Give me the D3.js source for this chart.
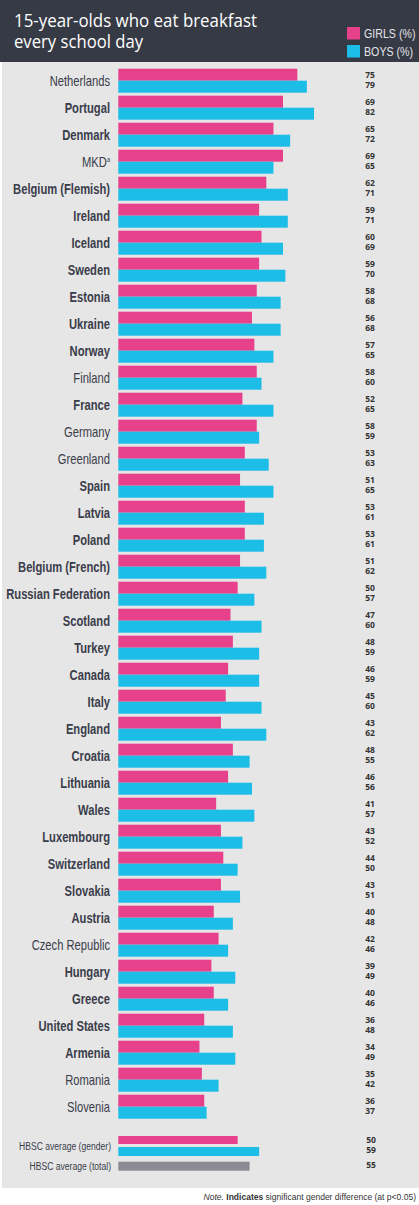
<!DOCTYPE html>
<html><head><meta charset="utf-8">
<script src="https://cdn.jsdelivr.net/npm/d3@7"></script>
<style>
html,body{margin:0;padding:0;background:#fff;}
svg{display:block;}
</style></head>
<body>
<script>
const countries = ["Netherlands","Portugal","Denmark","MKD","Belgium (Flemish)","Ireland","Iceland","Sweden","Estonia","Ukraine","Norway","Finland","France","Germany","Greenland","Spain","Latvia","Poland","Belgium (French)","Russian Federation","Scotland","Turkey","Canada","Italy","England","Croatia","Lithuania","Wales","Luxembourg","Switzerland","Slovakia","Austria","Czech Republic","Hungary","Greece","United States","Armenia","Romania","Slovenia"];
const girls = [75,69,65,69,62,59,60,59,58,56,57,58,52,58,53,51,53,53,51,50,47,48,46,45,43,48,46,41,43,44,43,40,42,39,40,36,34,35,36];
const boys  = [79,82,72,65,71,71,69,70,68,68,65,60,65,59,63,65,61,61,62,57,60,59,59,60,62,55,56,57,52,50,51,48,46,49,46,48,49,42,37];
const significant = [false,true,true,false,true,true,true,true,true,true,true,false,true,false,false,true,true,true,true,true,true,true,true,true,true,true,true,true,true,true,true,true,false,true,true,true,true,false,false];
const avgGirls = 50, avgBoys = 59, avgTotal = 55;

const W = 419, H = 1205;
const PINK = "#e8418b", CYAN = "#1cbde6", GREY = "#8a8a94", DARK = "#363a45", TEXT = "#3a3d4a";
const labelFont = "'Liberation Sans',Arial,sans-serif";
const SX = 0.8;

const svg = d3.select("body").append("svg").attr("width", W).attr("height", H);

// header
svg.append("rect").attr("x",0).attr("y",0).attr("width",W).attr("height",62).attr("fill",DARK);
svg.append("rect").attr("x",2).attr("y",62).attr("width",W-2).attr("height",1126).attr("fill","#e6e6e6");

const title = svg.append("g").attr("fill","#ffffff").style("font-family","'Open Sans',sans-serif").style("font-size","19px");
title.append("text").attr("x",14).attr("y",27).attr("textLength",243).attr("lengthAdjust","spacingAndGlyphs").text("15-year-olds who eat breakfast");
title.append("text").attr("x",14).attr("y",48).attr("textLength",129).attr("lengthAdjust","spacingAndGlyphs").text("every school day");

const legend = svg.append("g").style("font-family",labelFont).style("font-size","13px");
[["GIRLS (%)",PINK,27],["BOYS (%)",CYAN,45]].forEach(([t,c,y])=>{
  legend.append("rect").attr("x",347).attr("y",y).attr("width",13).attr("height",12.5).attr("fill",c);
  legend.append("text").attr("transform",`translate(364,${y+11}) scale(0.82,1)`).attr("fill","#e4e4e8").text(t);
});

const x = d3.scaleLinear().domain([0,100]).range([118.3, 357]);
const y = d3.scaleBand().domain(countries).range([68.7, 68.7 + 27*countries.length - 3]).paddingInner(3/27).paddingOuter(0);
const sub = d3.scaleBand().domain(["g","b"]).range([0, y.bandwidth()]);

const rows = svg.append("g").selectAll("g").data(countries).join("g")
  .attr("transform", d => `translate(0,${y(d)})`);

rows.append("rect").attr("x", x(0)).attr("y", sub("g")).attr("height", sub.bandwidth())
  .attr("width", (d,i) => x(girls[i]) - x(0)).attr("fill", PINK);
rows.append("rect").attr("x", x(0)).attr("y", sub("b")).attr("height", sub.bandwidth())
  .attr("width", (d,i) => x(boys[i]) - x(0)).attr("fill", CYAN);

rows.append("text").attr("transform", `translate(110,${y.bandwidth()/2 + 4.8}) scale(${SX},1)`)
  .attr("text-anchor","end").attr("fill",TEXT)
  .style("font-family",labelFont).style("font-size","14px")
  .style("font-weight",(d,i)=>significant[i]?"bold":"normal")
  .each(function(d){
    const t = d3.select(this);
    if (d === "MKD") { t.text("MKD"); t.append("tspan").attr("font-size","7px").attr("dy",-5).text("a"); }
    else t.text(d);
  });

const valStyle = sel => sel.attr("text-anchor","middle").attr("fill","#333")
  .style("font-family","'Open Sans',sans-serif").style("font-size","8.5px").style("font-weight","bold");

rows.append("text").attr("x",370).attr("y",9.6).text((d,i)=>girls[i]).call(valStyle);
rows.append("text").attr("x",370).attr("y",19.6).text((d,i)=>boys[i]).call(valStyle);

// averages
const avg = svg.append("g");
avg.append("rect").attr("x",x(0)).attr("y",1136).attr("height",8).attr("width",x(avgGirls)-x(0)).attr("fill",PINK);
avg.append("rect").attr("x",x(0)).attr("y",1147).attr("height",9).attr("width",x(avgBoys)-x(0)).attr("fill",CYAN);
avg.append("rect").attr("x",x(0)).attr("y",1161.7).attr("height",9).attr("width",x(avgTotal)-x(0)).attr("fill",GREY);
avg.append("text").attr("transform","translate(111,1149.5) scale(0.78,1)").attr("text-anchor","end").attr("fill",TEXT)
  .style("font-family",labelFont).style("font-size","11px").text("HBSC average (gender)");
avg.append("text").attr("transform","translate(111,1169.5) scale(0.78,1)").attr("text-anchor","end").attr("fill",TEXT)
  .style("font-family",labelFont).style("font-size","11px").text("HBSC average (total)");
avg.append("text").attr("x",371).attr("y",1142.8).text(avgGirls).call(valStyle);
avg.append("text").attr("x",371).attr("y",1153.4).text(avgBoys).call(valStyle);
avg.append("text").attr("x",371).attr("y",1167.8).text(avgTotal).call(valStyle);

// note
const note = svg.append("text").attr("transform","translate(416,1200) scale(0.9,1)").attr("text-anchor","end").attr("fill","#333")
  .style("font-family",labelFont).style("font-size","9.5px");
note.append("tspan").style("font-style","italic").text("Note. ");
note.append("tspan").style("font-weight","bold").text("Indicates ");
note.append("tspan").text("significant gender difference (at p<0.05)");
</script>
</body></html>
